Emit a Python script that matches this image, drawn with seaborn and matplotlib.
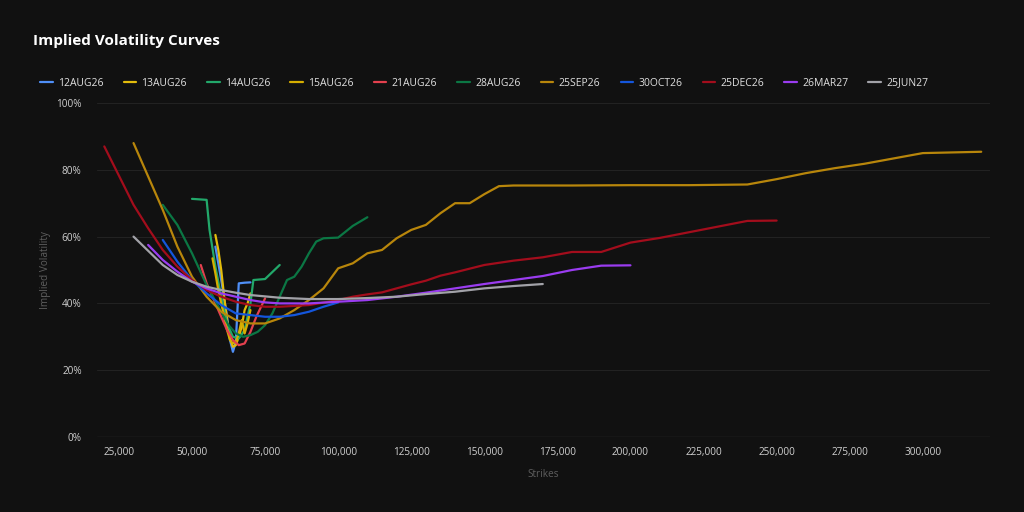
import matplotlib
matplotlib.use("Agg")
import matplotlib.pyplot as plt
import seaborn as sns
import pandas as pd
from matplotlib.ticker import FuncFormatter, MultipleLocator

# ---------------- data (strike, implied vol in %) ----------------
exp_12aug26_k = [58000, 60000, 62000, 63000, 64000, 65000, 66000, 68000, 70000]
exp_12aug26_v = [57, 47, 36, 29, 25.5, 28.5, 46, 46.2, 46.3]

exp_13aug26_k = [58000, 59000, 60000, 61000, 62000, 63000, 64000, 65000, 66000, 67000, 68000, 69000, 70000]
exp_13aug26_v = [60.5, 56, 50, 42, 35, 29.5, 27, 27.5, 30, 33, 38, 40, 43]

exp_14aug26_k = [50000, 55000, 56000, 58000, 60000, 62000, 64000, 66000, 68000, 70000, 71000, 75000, 80000]
exp_14aug26_v = [71.3, 71, 62, 51, 42, 34, 30, 29.5, 32, 40, 47, 47.3, 51.5]

exp_15aug26_k = [57000, 58000, 59000, 60000, 61000, 62000, 63000, 64000, 65000, 66000, 67000, 68000, 69000, 70000]
exp_15aug26_v = [53.5, 49, 44, 40, 36, 32, 29, 28, 28.5, 31, 35, 31, 34, 38]

exp_21aug26_k = [53000, 55000, 58000, 60000, 62000, 64000, 66000, 68000, 70000, 72000, 75000]
exp_21aug26_v = [51.5, 46, 40, 36, 32, 29, 27.5, 28, 31.5, 36, 41.5]

exp_28aug26_k = [40000, 45000, 50000, 55000, 60000, 62500, 65000, 67500, 70000, 72500, 75000, 77500,
                 80000, 82500, 85000, 87500, 90000, 92500, 95000, 100000, 105000, 110000]
exp_28aug26_v = [69.5, 63.5, 55, 45.5, 37.5, 33.5, 31, 30, 30.5, 31.5, 33.5, 37,
                 42, 47, 48, 51, 55, 58.5, 59.5, 59.7, 63.2, 65.8]

exp_25sep26_k = [30000, 35000, 40000, 45000, 50000, 55000, 60000, 65000, 70000, 75000, 80000, 85000,
                 90000, 95000, 100000, 105000, 110000, 115000, 120000, 125000, 130000, 135000, 140000,
                 145000, 150000, 155000, 160000, 180000, 200000, 220000, 240000, 250000, 260000,
                 270000, 280000, 290000, 300000, 320000]
exp_25sep26_v = [88, 78, 68, 57, 48, 42, 37.5, 35, 34, 34, 35.5, 38,
                 41, 44.5, 50.5, 52, 55, 56, 59.5, 62, 63.5, 67, 70,
                 70, 72.7, 75.1, 75.3, 75.3, 75.4, 75.4, 75.6, 77.2, 79,
                 80.5, 81.8, 83.4, 85, 85.4]

exp_30oct26_k = [40000, 45000, 50000, 55000, 60000, 65000, 70000, 75000, 80000, 85000, 90000, 95000, 100000]
exp_30oct26_v = [59, 52.5, 47, 43, 39.5, 37, 36.5, 36, 36, 36.5, 37.5, 39, 40.3]

exp_25dec26_k = [20000, 30000, 35000, 40000, 45000, 50000, 55000, 60000, 65000, 70000, 75000, 80000,
                 90000, 100000, 105000, 110000, 115000, 120000, 125000, 130000, 135000, 140000,
                 150000, 160000, 170000, 180000, 190000, 200000, 210000, 220000, 230000, 240000, 250000]
exp_25dec26_v = [87, 69.5, 62.5, 56, 51, 47, 44, 42, 40.5, 39.5, 39, 39,
                 39.5, 41, 42, 42.7, 43.3, 44.5, 45.7, 46.8, 48.3, 49.3,
                 51.5, 52.8, 53.8, 55.4, 55.4, 58.2, 59.6, 61.3, 63, 64.7, 64.8]

exp_26mar27_k = [35000, 40000, 45000, 50000, 55000, 60000, 65000, 70000, 75000, 80000, 90000, 100000,
                 110000, 120000, 130000, 140000, 150000, 160000, 170000, 180000, 190000, 200000]
exp_26mar27_v = [57.5, 53, 49.5, 46.5, 44.5, 43, 42, 41, 40.3, 40, 40, 40.5,
                 41, 42, 43.2, 44.5, 45.8, 47, 48.2, 50, 51.3, 51.4]

exp_25jun27_k = [30000, 40000, 45000, 50000, 55000, 60000, 65000, 70000, 80000, 90000, 100000,
                 110000, 120000, 130000, 140000, 150000, 160000, 170000]
exp_25jun27_v = [60, 51.5, 48.5, 46.5, 45, 44, 43.2, 42.5, 41.7, 41.3, 41.3,
                 41.6, 42, 42.8, 43.5, 44.5, 45.2, 45.8]

expiries = ["12AUG26", "13AUG26", "14AUG26", "15AUG26", "21AUG26", "28AUG26",
            "25SEP26", "30OCT26", "25DEC26", "26MAR27", "25JUN27"]
strikes = [exp_12aug26_k, exp_13aug26_k, exp_14aug26_k, exp_15aug26_k, exp_21aug26_k, exp_28aug26_k,
           exp_25sep26_k, exp_30oct26_k, exp_25dec26_k, exp_26mar27_k, exp_25jun27_k]
vols = [exp_12aug26_v, exp_13aug26_v, exp_14aug26_v, exp_15aug26_v, exp_21aug26_v, exp_28aug26_v,
        exp_25sep26_v, exp_30oct26_v, exp_25dec26_v, exp_26mar27_v, exp_25jun27_v]
colors = ["#4f8ff7", "#e3bc0c", "#22a86a", "#d6ae00", "#e4404e", "#0b7744",
          "#b8860b", "#1456dc", "#a30d1c", "#9a3cf0", "#a2a2a8"]

# ---------------- build long table ----------------
rows = []
for name, ks, vs in zip(expiries, strikes, vols):
    for k, v in zip(ks, vs):
        rows.append({"Expiry": name, "Strike": k, "IV": v})
df = pd.DataFrame(rows)

BG = "#111111"
sns.set_theme(style="dark")
plt.rcParams["font.family"] = ["Open Sans", "DejaVu Sans"]

fig = plt.figure(figsize=(10.24, 5.12), dpi=100, facecolor=BG)
ax = fig.add_axes([97 / 1024, 1 - 437 / 512, (990 - 97) / 1024, (437 - 103) / 512])
ax.set_facecolor(BG)

sns.lineplot(data=df, x="Strike", y="IV", hue="Expiry", hue_order=expiries,
             palette=dict(zip(expiries, colors)), estimator=None, sort=False,
             linewidth=1.6, ax=ax, legend=True)

ax.set_xlim(17500, 323000)
ax.set_ylim(0, 100)
ax.xaxis.set_major_locator(MultipleLocator(25000))
ax.yaxis.set_major_locator(MultipleLocator(20))
ax.xaxis.set_major_formatter(FuncFormatter(lambda v, p: f"{v:,.0f}"))
ax.yaxis.set_major_formatter(FuncFormatter(lambda v, p: f"{v:.0f}%"))
ax.tick_params(axis="x", colors="#d0d0d0", labelsize=7.2, length=0, pad=7)
ax.tick_params(axis="y", colors="#d0d0d0", labelsize=7.2, length=0, pad=11)
ax.grid(False)
ax.yaxis.grid(True, color="#222222", linewidth=0.8)
ax.xaxis.grid(False)
for s in ax.spines.values():
    s.set_visible(False)
ax.axhline(0, color="#2c2c2c", linewidth=1.0, zorder=0)
ax.set_axisbelow(True)

ax.set_xlabel("Strikes", color="#5e5e5e", fontsize=7.2, labelpad=8)
ax.set_ylabel("Implied Volatility", color="#5e5e5e", fontsize=7.2, labelpad=4)

fig.text(33 / 1024, 1 - 41 / 512, "Implied Volatility Curves", color="white",
         fontsize=11, fontweight="bold", va="center", ha="left")

handles, labels = ax.get_legend_handles_labels()
ax.legend(handles, labels, ncol=11, loc="center left",
          bbox_to_anchor=(40 / 1024, 1 - 83 / 512), bbox_transform=fig.transFigure,
          frameon=False, fontsize=7.5, labelcolor="#e0e0e0", handlelength=1.2,
          handletextpad=0.5, columnspacing=1.95, borderaxespad=0, borderpad=0)

fig.savefig("out.png", dpi=100, facecolor=BG)
